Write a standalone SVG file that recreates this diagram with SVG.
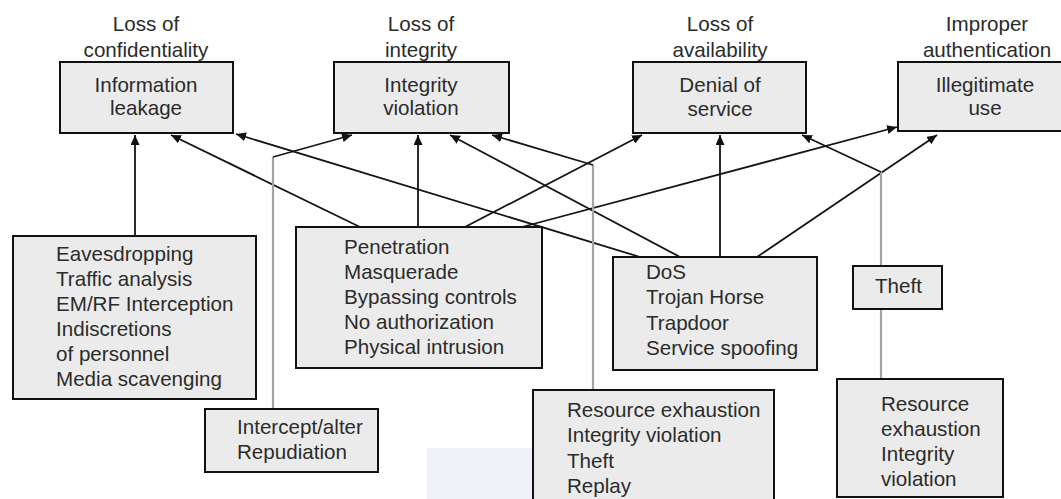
<svg xmlns="http://www.w3.org/2000/svg" width="1061" height="499" viewBox="0 0 1061 499">
<style>
  text { font-family: "Liberation Sans", Arial, sans-serif; font-size: 20.6px; fill: #2b2b2b; }
  .c { text-anchor: middle; }
  .box { fill: #ebebeb; stroke: #111; stroke-width: 2; }
  .ln { fill: none; stroke: #151515; stroke-width: 1.8; }
  .arr { marker-end: url(#ah); }
  .gr { fill: none; stroke: #a3a3a3; stroke-width: 2.2; }
</style>
<defs>
  <marker id="ah" markerUnits="userSpaceOnUse" markerWidth="11" markerHeight="9" refX="10" refY="4.5" orient="auto">
    <path d="M0,0 L10,4.5 L0,9 z" fill="#111"/>
  </marker>
</defs>
<rect x="0" y="0" width="1061" height="499" fill="#ffffff"/>
<rect x="427" y="448" width="110" height="51" fill="#f1f1f9"/>

<g id="connectors">
  <path class="ln arr" d="M135,236 L135,135"/>
  <path class="ln arr" d="M360,227 L171,135"/>
  <path class="ln arr" d="M418,227 L418,135"/>
  <path class="ln arr" d="M465,227 L642,135"/>
  <path class="ln arr" d="M522,227 L897,127"/>
  <path class="ln arr" d="M640,257 L236,134"/>
  <path class="ln arr" d="M680,257 L450,135"/>
  <path class="ln arr" d="M720,257 L720,135"/>
  <path class="ln arr" d="M757,257 L937,135"/>
  <path class="gr" d="M273,409 L273,157"/>
  <path class="ln arr" d="M273,157 L352,135"/>
  <path class="gr" d="M593,390 L593,165"/>
  <path class="ln arr" d="M593,165 L492,135"/>
  <path class="gr" d="M881,379 L881,172"/>
  <path class="ln arr" d="M881,172 L802,135"/>
</g>

<g id="info-leakage">
  <text class="c" x="146" y="31">Loss of</text>
  <text class="c" x="146" y="57">confidentiality</text>
  <rect class="box" x="60" y="62" width="173" height="71"/>
  <text class="c" x="146" y="92">Information</text>
  <text class="c" x="146" y="115">leakage</text>
</g>
<g id="integrity-violation">
  <text class="c" x="421" y="31">Loss of</text>
  <text class="c" x="421" y="57">integrity</text>
  <rect class="box" x="334" y="62" width="175" height="71"/>
  <text class="c" x="421" y="92">Integrity</text>
  <text class="c" x="421" y="115">violation</text>
</g>
<g id="denial-of-service">
  <text class="c" x="720" y="31">Loss of</text>
  <text class="c" x="720" y="57">availability</text>
  <rect class="box" x="633" y="62" width="173" height="71"/>
  <text class="c" x="720" y="92">Denial of</text>
  <text class="c" x="720" y="116">service</text>
</g>
<g id="illegitimate-use">
  <text class="c" x="987" y="31">Improper</text>
  <text class="c" x="987" y="57">authentication</text>
  <rect class="box" x="898" y="62" width="180" height="69"/>
  <text class="c" x="985" y="92">Illegitimate</text>
  <text class="c" x="985" y="115">use</text>
</g>

<g id="eavesdropping">
  <rect class="box" x="13" y="236" width="243" height="163"/>
  <text x="56" y="261">Eavesdropping</text>
  <text x="56" y="286">Traffic analysis</text>
  <text x="56" y="311">EM/RF Interception</text>
  <text x="56" y="336">Indiscretions</text>
  <text x="56" y="361">of personnel</text>
  <text x="56" y="386">Media scavenging</text>
</g>
<g id="penetration">
  <rect class="box" x="296" y="227" width="246" height="141"/>
  <text x="344" y="254">Penetration</text>
  <text x="344" y="279">Masquerade</text>
  <text x="344" y="304">Bypassing controls</text>
  <text x="344" y="329">No authorization</text>
  <text x="344" y="354">Physical intrusion</text>
</g>
<g id="intercept">
  <rect class="box" x="205" y="409" width="173" height="63"/>
  <text x="237" y="434">Intercept/alter</text>
  <text x="237" y="459">Repudiation</text>
</g>
<g id="dos">
  <rect class="box" x="613" y="257" width="204" height="113"/>
  <text x="646" y="279">DoS</text>
  <text x="646" y="304">Trojan Horse</text>
  <text x="646" y="330">Trapdoor</text>
  <text x="646" y="355">Service spoofing</text>
</g>
<g id="theft">
  <rect class="box" x="853" y="266" width="89" height="43"/>
  <text x="875" y="293">Theft</text>
</g>
<g id="resource-mid">
  <rect class="box" x="533" y="390" width="241" height="120"/>
  <text x="567" y="417">Resource exhaustion</text>
  <text x="567" y="442">Integrity violation</text>
  <text x="567" y="468">Theft</text>
  <text x="567" y="493">Replay</text>
</g>
<g id="resource-right">
  <rect class="box" x="837" y="379" width="166" height="118"/>
  <text x="881" y="411">Resource</text>
  <text x="881" y="436">exhaustion</text>
  <text x="881" y="461">Integrity</text>
  <text x="881" y="486">violation</text>
</g>
</svg>
